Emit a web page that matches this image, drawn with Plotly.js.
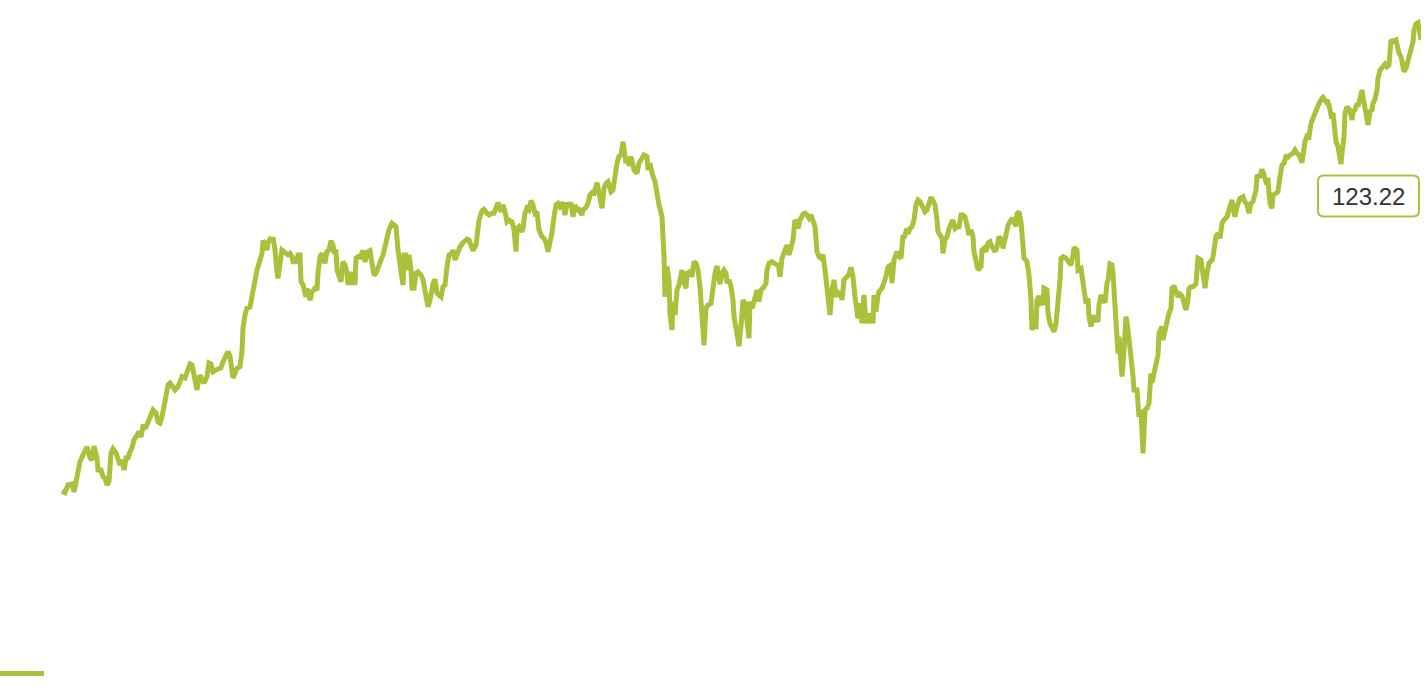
<!DOCTYPE html>
<html>
<head>
<meta charset="utf-8">
<script src="https://cdn.plot.ly/plotly-3.0.1.min.js"></script>
<style>html,body{margin:0;padding:0;background:#fff;}#chart{width:1424px;height:688px;}</style>
</head>
<body>
<div id="chart"></div>
<script>
// Trading-day index of each observation
const days = [0,3,6,10,12,15,18,21,25,28,30,32,35,36,39,41,43,45,47,49,51,54,56,58,60,62,64,66,68,70,72,75,77,79,81,84,86,89,91,94,96,98,100,103,106,108,110,113,116,118,120,123,126,128,130,132,135,136,138,140,142,145,147,149,151,154,156,159,161,164,166,168,170,171,175,178,180,181,183,185,188,190,191,193,195,197,200,201,203,205,206,208,210,211,213,215,216,218,220,222,224,226,228,230,231,234,236,238,239,241,244,245,248,250,253,255,256,258,260,261,263,265,267,269,271,272,274,275,277,279,281,283,285,286,288,290,291,293,294,296,298,300,301,303,305,306,308,310,312,314,316,319,321,323,325,327,330,332,334,336,339,341,342,344,346,347,349,350,352,354,356,359,361,363,365,366,368,371,373,375,377,379,381,383,385,387,390,391,393,396,398,401,403,405,407,410,411,414,415,417,420,422,425,427,430,432,434,436,439,441,443,445,447,450,452,454,455,457,460,461,463,465,467,469,471,473,475,477,480,482,484,486,488,490,492,494,496,498,501,503,505,507,509,511,513,515,517,520,521,524,526,528,530,532,535,536,538,540,542,544,546,549,551,553,555,557,559,561,562,564,566,567,569,570,572,575,577,580,582,585,586,588,590,593,595,597,600,601,602,603,605,607,608,610,611,613,615,617,620,621,624,625,628,630,632,634,636,638,640,642,644,646,649,651,653,655,656,658,660,662,664,665,667,669,671,672,675,677,679,681,683,685,687,688,690,692,695,697,699,701,704,705,707,710,712,715,716,718,720,721,723,725,727,729,731,733,735,736,738,741,743,745,747,749,751,753,755,757,759,761,763,765,766,768,770,772,774,776,777,779,780,782,785,787,789,791,793,795,796,798,800,802,804,806,807,809,811,812,814,816,817,820,822,824,826,829,830,832,835,837,839,841,842,845,846,848,850,852,854,856,858,860,863,865,867,869,871,873,875,876,878,880,881,883,885,887,890,891,893,895,897,899,901,903,905,907,909,911,912,915,916,919,920,922,924,926,928,930,933,935,937,940,941,944,946,949,951,952,954,955,957,959,961,962,965,967,969,970,971,974,975,977,979,981,982,985,986,988,990,992,994,996,998,999,1001,1004,1006,1009,1011,1012,1015,1016,1019,1021,1022,1024,1026,1027,1029,1031,1032,1034,1036,1037,1039,1041,1043,1045,1046,1048,1050,1051,1053,1055,1056,1057,1059,1060,1062,1064,1065,1067,1069,1071,1072,1075,1076,1077,1079,1080,1081,1083,1085,1087,1089,1090,1092,1094,1096,1097,1100,1101,1103,1105,1107,1109,1110,1112,1114,1116,1118,1120,1122,1124,1126,1127,1129,1131,1134,1136,1139,1141,1143,1145,1147,1150,1151,1154,1156,1158,1160,1162,1165,1167,1170,1171,1173,1175,1178,1181,1182,1185,1187,1189,1191,1194,1195,1198,1200,1202,1204,1206,1208,1210,1211,1214,1216,1218,1220,1222,1224,1226,1228,1231,1233,1235,1237,1240,1241,1243,1245,1247,1249,1251,1253,1255,1257,1260,1261,1264,1265,1267,1269,1271,1272,1274,1276,1277,1279,1280,1282,1283,1285,1286,1288,1290,1291,1293,1295,1296,1298,1300,1301,1303,1305,1306,1308,1310,1311,1313,1315,1316,1318,1321,1323,1325,1327,1329,1331,1334,1335,1337,1339,1340,1342,1344,1346,1349,1351,1352,1354,1356,1357,1359];

// Index level at each observation
const values = [99.95,99.86,100.26,100.31,99.90,100.88,101.46,101.81,102.22,101.65,101.55,102.27,101.65,101.03,101.03,100.69,100.62,100.26,100.43,101.91,102.12,101.91,101.46,101.29,101.55,101.03,101.65,101.65,101.98,102.17,102.58,102.89,103.01,102.73,103.27,103.25,103.46,103.87,104.13,103.97,103.52,103.46,103.77,104.81,105.42,105.52,105.33,105.16,105.33,105.68,105.85,105.78,106.24,106.50,106.45,105.93,105.16,105.52,105.93,105.68,105.52,105.85,106.55,106.50,106.10,106.19,106.24,106.30,106.62,106.88,107.14,106.88,106.36,105.78,106.28,106.36,107.14,108.36,109.03,109.39,109.44,110.06,110.23,111.09,111.35,111.70,112.21,112.86,112.73,112.38,112.76,112.94,112.90,113.04,112.38,111.26,110.92,111.70,112.38,112.30,112.21,112.13,112.21,112.04,111.78,111.78,112.13,112.13,110.75,110.58,109.97,110.41,109.80,110.23,110.41,110.32,111.18,112.04,112.21,112.04,111.70,112.30,112.38,112.86,112.64,112.30,112.30,111.35,110.92,110.75,111.78,111.61,111.18,110.58,111.26,110.58,111.26,110.58,111.96,112.04,112.01,112.21,112.35,111.78,112.04,112.30,112.35,111.70,111.09,111.18,111.52,111.87,112.13,112.55,113.16,113.42,113.76,113.67,113.59,112.38,111.35,110.58,112.13,112.13,111.35,112.13,111.35,110.41,110.41,111.18,111.26,111.09,110.84,110.23,109.65,109.46,109.80,110.67,110.87,110.15,110.06,109.97,110.49,110.58,111.52,112.13,112.21,112.38,111.87,112.30,112.55,112.76,112.90,112.94,112.90,112.55,112.35,112.64,113.25,113.93,114.41,114.48,114.28,114.19,114.28,114.28,114.54,114.83,114.36,114.71,114.36,113.84,113.93,113.84,113.42,112.30,113.50,113.59,113.33,113.50,114.28,114.54,114.45,114.93,114.71,114.28,114.36,113.42,113.07,112.99,112.76,112.30,112.81,113.25,114.10,114.71,114.79,114.62,114.83,114.19,114.83,114.62,114.83,114.10,114.71,114.45,114.48,114.19,114.45,114.59,114.79,115.22,115.34,115.31,115.86,115.57,115.13,114.54,115.57,115.83,115.91,115.39,115.48,116.34,116.86,117.23,117.29,117.97,117.37,116.86,117.20,116.72,117.20,117.03,116.51,116.34,116.86,117.12,117.29,117.20,116.51,116.86,116.34,115.91,115.22,114.71,114.10,113.25,112.04,109.97,111.52,110.84,109.12,108.26,109.72,109.03,110.32,110.58,111.35,110.92,110.41,111.18,111.26,111.01,111.78,111.70,111.35,110.49,109.12,107.48,109.38,109.55,109.63,110.67,111.18,111.56,111.18,110.63,111.18,111.35,111.18,110.67,110.84,110.49,109.80,108.94,108.09,107.43,108.43,109.80,109.63,108.68,107.83,109.72,109.38,109.72,110.32,109.72,110.32,110.41,110.67,111.35,111.70,111.78,111.70,111.61,111.70,111.01,111.96,112.13,112.38,112.64,112.13,112.64,112.90,113.93,113.76,113.50,113.93,114.24,114.28,114.19,114.02,114.19,113.76,113.59,112.30,112.04,111.96,112.13,111.35,110.32,109.80,109.03,110.32,110.84,110.06,110.06,110.15,110.06,109.80,110.84,111.01,111.13,111.49,111.01,109.97,109.12,108.86,109.63,108.60,110.06,108.60,109.12,108.60,109.12,108.60,110.06,109.20,110.06,110.23,110.41,110.67,111.01,111.52,111.61,110.67,111.87,112.30,112.04,111.96,113.16,112.99,113.50,113.21,113.50,113.59,113.93,114.71,114.96,114.88,114.71,114.36,114.45,114.88,115.10,114.93,114.71,113.93,113.33,113.16,112.99,112.21,112.90,113.07,113.50,113.84,113.93,113.50,113.59,113.59,114.19,114.19,114.10,113.67,113.16,113.42,113.07,112.30,111.61,111.35,111.52,112.38,112.47,112.30,112.73,112.81,112.55,112.30,112.55,113.07,112.90,112.47,113.16,113.67,113.93,113.84,114.07,113.59,114.24,114.36,113.84,112.90,111.96,111.78,111.09,109.80,108.26,108.43,108.43,109.80,110.01,109.63,109.66,110.41,110.32,109.12,108.60,108.43,108.17,108.60,109.63,110.84,111.96,112.04,111.96,111.78,111.61,112.13,112.52,112.38,111.35,111.44,110.67,109.97,109.63,109.89,108.94,108.43,109.03,108.68,108.94,108.68,109.55,110.06,109.80,109.66,110.67,110.84,111.66,111.61,111.18,109.80,108.09,107.05,107.91,106.88,105.85,107.22,108.94,108.68,107.91,106.88,105.85,105.16,105.16,104.47,103.78,104.13,103.10,101.89,104.13,104.22,104.47,106.02,105.54,106.10,106.62,106.97,108.09,108.43,107.74,108.34,108.68,109.12,109.38,110.41,110.53,110.23,109.97,110.11,110.01,109.66,109.29,109.80,110.41,110.49,110.49,110.63,111.96,111.87,111.01,110.41,111.18,111.70,111.87,112.04,113.07,113.25,112.99,113.76,113.93,114.10,114.45,114.96,114.54,114.10,114.62,115.05,115.13,114.96,114.71,114.28,114.79,114.88,115.48,116.17,116.20,116.55,116.25,115.91,115.96,114.79,114.54,115.22,115.31,115.39,116.17,116.77,116.86,117.20,117.17,117.29,117.37,117.54,117.37,117.29,116.89,117.37,117.97,118.27,118.23,118.92,119.18,119.44,119.78,119.95,120.21,120.26,120.04,120.12,119.87,119.35,119.44,118.92,117.97,117.71,117.20,116.82,117.37,118.23,119.44,119.78,119.70,119.61,119.09,119.52,119.61,119.95,119.78,120.12,120.64,120.29,119.61,118.92,118.83,119.52,119.61,119.95,120.16,120.64,121.24,121.67,121.93,121.98,121.84,121.93,123.22,123.13,123.22,122.87,122.53,122.36,122.10,121.58,121.76,122.10,122.70,123.13,123.74,124.05,124.11,123.74,123.22];

const seriesName = ' ';
const lastLabel = values[values.length - 1].toFixed(2);

const GREEN = '#abc13c';
const W = 1424, H = 688, ML = 0, MR = 3;
const PW = W - ML - MR;

function px2paperX(p) { return (p - ML) / PW; }
function px2paperY(p) { return 1 - p / H; }
function roundRect(x0, y0, x1, y1, r) {
  const X = px2paperX, Y = px2paperY;
  return 'M' + X(x0 + r) + ',' + Y(y0) +
    ' L' + X(x1 - r) + ',' + Y(y0) +
    ' Q' + X(x1) + ',' + Y(y0) + ' ' + X(x1) + ',' + Y(y0 + r) +
    ' L' + X(x1) + ',' + Y(y1 - r) +
    ' Q' + X(x1) + ',' + Y(y1) + ' ' + X(x1 - r) + ',' + Y(y1) +
    ' L' + X(x0 + r) + ',' + Y(y1) +
    ' Q' + X(x0) + ',' + Y(y1) + ' ' + X(x0) + ',' + Y(y1 - r) +
    ' L' + X(x0) + ',' + Y(y0 + r) +
    ' Q' + X(x0) + ',' + Y(y0) + ' ' + X(x0 + r) + ',' + Y(y0) + ' Z';
}

const trace = {
  x: days,
  y: values,
  type: 'scatter',
  mode: 'lines',
  name: seriesName,
  line: { color: GREEN, width: 5, shape: 'linear' },
  hoverinfo: 'skip',
  showlegend: true
};

const layout = {
  width: W, height: H,
  margin: { l: ML, r: MR, t: 0, b: 0, pad: 0, autoexpand: false },
  paper_bgcolor: '#ffffff',
  plot_bgcolor: '#ffffff',
  showlegend: true,
  legend: {
    x: px2paperX(-5), y: 0, xanchor: 'left', yanchor: 'bottom',
    bgcolor: 'rgba(0,0,0,0)', borderwidth: 0,
    font: { size: 12, color: '#333' },
    itemwidth: 44
  },
  xaxis: { visible: false, range: [-62, 1359], fixedrange: true },
  yaxis: { visible: false, range: [100 - 198 / 19.38, 100 + 490 / 19.38], fixedrange: true },
  shapes: [
    {
      type: 'path', xref: 'paper', yref: 'paper',
      path: roundRect(1318, 175.5, 1419, 216.5, 6),
      line: { color: GREEN, width: 2 },
      fillcolor: '#ffffff'
    }
  ],
  annotations: [
    {
      xref: 'paper', yref: 'paper',
      x: px2paperX(1368.5), y: px2paperY(196),
      xanchor: 'center', yanchor: 'middle',
      text: lastLabel, showarrow: false,
      font: { family: 'Liberation Sans, Arial, sans-serif', size: 24, color: '#333333' }
    }
  ]
};

Plotly.newPlot('chart', [trace], layout, { displayModeBar: false, staticPlot: true });
</script>
</body>
</html>
